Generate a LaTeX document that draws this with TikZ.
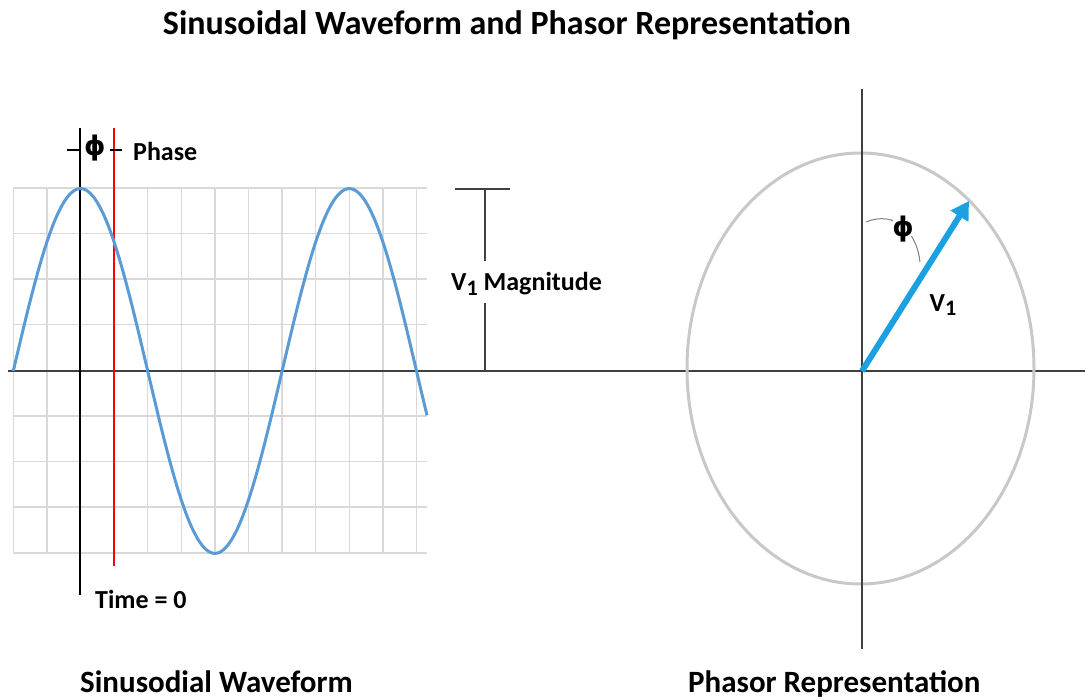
\documentclass[tikz,border=0pt]{standalone}
\usepackage{fontspec}
\setmainfont{Carlito}
\newfontfamily\dejavu{DejaVu Sans}
\usetikzlibrary{arrows.meta}
\definecolor{gridgray}{HTML}{D9D9D9}
\definecolor{axisgray}{HTML}{404040}
\definecolor{waveblue}{HTML}{5B9BD5}
\definecolor{phasorblue}{HTML}{1BA1E2}
\definecolor{ellgray}{HTML}{C8C8C8}
\newcommand{\lowsub}[1]{\raisebox{-0.35ex}{\scalebox{0.85}{#1}}}
\newcommand{\myphi}{{\dejavu\bfseries ϕ}}
\begin{document}
\begin{tikzpicture}[x=1pt,y=-1pt,
  lbl/.style={font=\fontsize{26}{28}\selectfont\bfseries, inner sep=0pt},
  phis/.style={font=\fontsize{27}{29}\selectfont, inner sep=0pt},
  big/.style={font=\fontsize{31}{33}\selectfont\bfseries, inner sep=0pt},
  ttl/.style={font=\fontsize{34}{36}\selectfont\bfseries, inner sep=0pt},
  gridln/.style={draw=gridgray, line width=1.4pt},
  axisln/.style={draw=axisgray, line width=2pt},
  thinblack/.style={draw=black, line width=1.4pt}]
\useasboundingbox (0,0) rectangle (1085,700);
% grid
\foreach \i in {0,...,12} {
  \draw[gridln] ({13.3+33.6*\i},188) -- ({13.3+33.6*\i},553);
}
\foreach \j in {0,...,8} {
  \draw[gridln] (13.3,{188+45.6*\j}) -- (427,{188+45.6*\j});
}
% axes
\coordinate (hl) at (8,371);
\coordinate (hr) at (1085,371);
\draw[axisln] (hl) -- (hr);
\coordinate (t0top) at (80,128);
\coordinate (t0bot) at (80,595);
\draw[thinblack] (t0top) -- (t0bot);
\coordinate (redtop) at (114,128);
\coordinate (redbot) at (114,566);
\draw[red, line width=1.4pt] (redtop) -- (redbot);
% sine wave
\draw[waveblue, line width=3pt] plot[domain=13.3:427, samples=200, smooth] (\x, {371-182.4*sin(1.339286*(\x-13.3))});
% phase markers
\coordinate (pl1) at (67,150); \coordinate (pl2) at (80,150);
\coordinate (pr1) at (110,150); \coordinate (pr2) at (122,150);
\draw[thinblack] (pl1) -- (pl2);
\draw[thinblack] (pr1) -- (pr2);
\node[phis] (phi1) at (95,148) {\myphi};
\node[lbl, anchor=west] (phase) at (133,151) {Phase};
% magnitude
\coordinate (mtl) at (455,189); \coordinate (mtr) at (510,189);
\coordinate (mt) at (485,189); \coordinate (mb) at (485,371);
\node[lbl, anchor=west] (mag) at (451,284) {V\lowsub{1} Magnitude};
\draw[axisln, line width=1.6pt] (mtl) -- (mtr);
\draw[axisln, line width=1.6pt] (mt) -- (485,261);
\draw[axisln, line width=1.6pt] (485,303) -- (mb);
\node[lbl, anchor=west] (time) at (95,599) {Time = 0};
% phasor
\coordinate (vtop) at (862,89);
\coordinate (vbot) at (862,649);
\draw[ellgray, line width=3pt] (860.5,368.5) ellipse [x radius=173.5, y radius=215.5];
\draw[axisln, line width=1.6pt] (vtop) -- (vbot);
\coordinate (O) at (862,371);
\coordinate (tip) at (969,201);
\draw[phasorblue, line width=6pt, -{Triangle[length=18pt,width=20pt]}] (O) -- (tip);
\draw[gray, line width=1pt, dash pattern=on 28pt off 24pt] (866,222) .. controls (895,210) and (917,232) .. (920,262);
\node[phis] (phi2) at (903,229) {\myphi};
\node[lbl] (v1) at (943,305) {V\lowsub{1}};
% titles
\node[ttl] (title) at (507,25) {Sinusoidal Waveform and Phasor Representation};
\node[big, anchor=base west] (sinlbl) at (80,692) {Sinusodial Waveform};
\node[big, anchor=base west] (phlbl) at (688,692) {Phasor Representation};
\end{tikzpicture}
\end{document}
